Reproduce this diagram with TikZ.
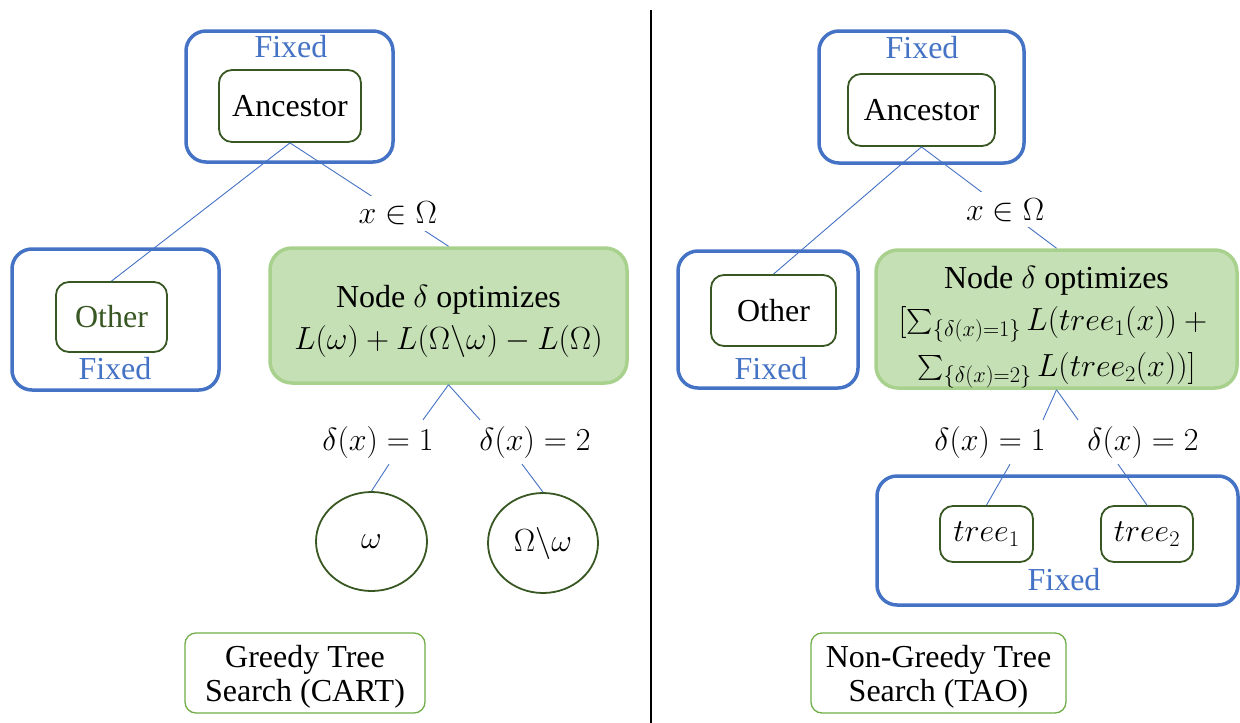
\documentclass[tikz,border=0pt]{standalone}
\usepackage{fix-cm}
\usepackage{amsmath}
\usepackage{exscale}
\usepackage{fontspec}
\setmainfont{Liberation Serif}
\usetikzlibrary{shapes.geometric,calc}
\definecolor{bl}{HTML}{4472C4}
\definecolor{dg}{HTML}{385723}
\definecolor{gf}{HTML}{C5E0B4}
\definecolor{gb}{HTML}{A9D18E}
\definecolor{lg}{HTML}{70AD47}
\tikzset{
  fixedbox/.style={draw=bl,line width=3.5pt,rounded corners=20pt,inner sep=0pt},
  innerbox/.style={draw=dg,line width=1.8pt,rounded corners=13pt,inner sep=0pt},
  greenbox/.style={draw=gb,fill=gf,line width=3.5pt,rounded corners=22pt,inner sep=0pt},
  boxtext/.style={inner sep=0pt,align=center},
  titlebox/.style={draw=lg,line width=1.3pt,rounded corners=11pt,inner sep=0pt},
  titletext/.style={inner sep=0pt,align=center,font=\rmfamily\fontsize{32}{34}\selectfont},
  circ/.style={draw=dg,line width=1.8pt,ellipse,inner sep=0pt},
  fixedlbl/.style={text=bl,inner sep=0pt},
  mlbl/.style={inner xsep=0pt,inner ysep=6pt,fill=white},
  conn/.style={draw=bl,line width=0.9pt},
}
\begin{document}
\begin{tikzpicture}[x=1pt,y=-1pt,font=\rmfamily\fontsize{32}{42}\selectfont]
\useasboundingbox (0,0) rectangle (1240,723);
% divider
\draw[line width=1.5pt] (651,10) -- (651,723);

% ---------- left panel ----------
\node[fixedbox,minimum width=207pt,minimum height=131pt] (LF1) at (289.5,96.5) {};
\node[fixedlbl] (LF1t) at (291,47) {Fixed};
\node[innerbox,minimum width=142pt,minimum height=72pt] (anc1) at (290,106) {Ancestor};

\node[fixedbox,minimum width=207pt,minimum height=141pt] (LO) at (115.5,319.5) {};
\node[innerbox,minimum width=111pt,minimum height=70pt,text=dg] (oth1) at (111.5,317) {Other};
\node[fixedlbl] (LOt) at (115,369) {Fixed};

\node[greenbox,minimum width=357pt,minimum height=135pt] (G1) at (448.5,315.5) {};
\node[boxtext] (G1t) at ($(G1.center)+(0,6)$)
  {Node $\delta$ optimizes\\ $L(\omega)+L(\Omega\backslash\omega)-L(\Omega)$};

\node[circ,minimum width=111pt,minimum height=99pt] (om1) at (371.5,541.5) {$\omega$};
\node[circ,minimum width=110pt,minimum height=100pt] (om2) at (543,543) {$\Omega\backslash\omega$};

\node[titlebox,minimum width=240pt,minimum height=80pt] (T1) at (305,673) {};
\node[titletext] (T1t) at ($(T1.center)+(0,4)$) {Greedy Tree\\Search (CART)};

\draw[conn] (anc1.south) -- (oth1.north);
\draw[conn] (anc1.south) -- node[mlbl,pos=0.68] (xo1) {$x\in\Omega$} (G1.north);
\node[mlbl] (d11) at (378,442) {$\delta(x)=1$};
\node[mlbl] (d12) at (535,442) {$\delta(x)=2$};
\draw[conn] (G1.south) -- ($(d11.north)+(45,0)$);
\draw[conn] (G1.south) -- ($(d12.north)+(-55,0)$);
\draw[conn] ($(d11.south)+(11,0)$) -- (om1.north);
\draw[conn] ($(d12.south)+(-13,0)$) -- (om2.north);

% ---------- right panel ----------
\node[fixedbox,minimum width=205pt,minimum height=132pt] (RF1) at (921.5,97) {};
\node[fixedlbl] (RF1t) at (922,48) {Fixed};
\node[innerbox,minimum width=147pt,minimum height=72pt] (anc2) at (921.5,110) {Ancestor};

\node[fixedbox,minimum width=180pt,minimum height=137pt] (RO) at (768,319.5) {};
\node[innerbox,minimum width=125pt,minimum height=71pt] (oth2) at (773.5,310.5) {Other};
\node[fixedlbl] (ROt) at (771,369) {Fixed};

\node[greenbox,minimum width=361pt,minimum height=138pt] (G2) at (1056.5,319) {};
\node[boxtext] (G2t) at ($(G2.center)+(0,8)$)
  {Node $\delta$ optimizes\\
   $[\sum_{\{\delta(x)=1\}}L(tree_1(x))+{}$\\[4pt]
   $\sum_{\{\delta(x)=2\}}L(tree_2(x))]$};

\node[fixedbox,minimum width=361pt,minimum height=129pt] (RF3) at (1057.5,540.5) {};
\node[innerbox,minimum width=93pt,minimum height=56pt] (tr1) at (986.5,534) {$tree_1$};
\node[innerbox,minimum width=92pt,minimum height=56pt] (tr2) at (1147,534) {$tree_2$};
\node[fixedlbl] (RF3t) at (1064,580) {Fixed};

\node[titlebox,minimum width=255pt,minimum height=80pt] (T2) at (938.5,673) {};
\node[titletext] (T2t) at ($(T2.center)+(0,4)$) {Non-Greedy Tree\\Search (TAO)};

\draw[conn] (anc2.south) -- (oth2.north);
\draw[conn] (anc2.south) -- node[mlbl,pos=0.62] (xo2) {$x\in\Omega$} (G2.north);
\node[mlbl] (d21) at (990,442) {$\delta(x)=1$};
\node[mlbl] (d22) at (1143,442) {$\delta(x)=2$};
\draw[conn] (G2.south) -- ($(d21.north)+(53,0)$);
\draw[conn] (G2.south) -- ($(d22.north)+(-65,0)$);
\draw[conn] ($(d21.south)+(20,0)$) -- (tr1.north);
\draw[conn] ($(d22.south)+(-25,0)$) -- (tr2.north);
\end{tikzpicture}
\end{document}
